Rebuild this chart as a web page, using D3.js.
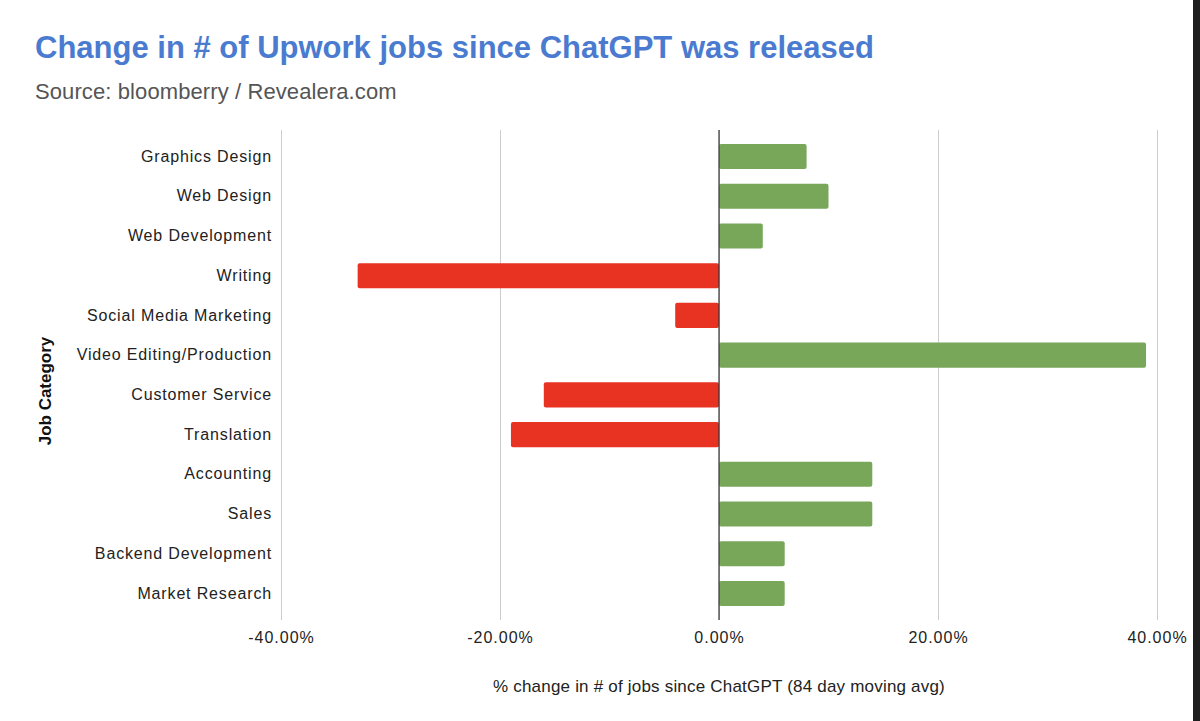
<!doctype html>
<html lang="en">
<head>
<meta charset="utf-8" />
<title>Upwork jobs since ChatGPT</title>
<script src="https://d3js.org/d3.v7.min.js"></script>
<style type="text/css">
  html, body { margin: 0; padding: 0; background: #fff; }
  #svg_div { width: 1200px; height: 721px; }
  text { font-family: "Liberation Sans", Arial, sans-serif; }
</style>
</head>
<body>
<div id="svg_div"></div>

<script>
// job categories, top to bottom
var categories = ["Graphics Design", "Web Design", "Web Development", "Writing",
  "Social Media Marketing", "Video Editing/Production", "Customer Service",
  "Translation", "Accounting", "Sales", "Backend Development", "Market Research"];

// % change in # of jobs (84 day moving avg)
var changes = [8, 10, 4, -33, -4, 39, -16, -19, 14, 14, 6, 6];

// x-axis ticks
var tickValues = [-40, -20, 0, 20, 40];

var width = 1200, height = 721;
var plotLeft = 281, plotRight = 1157, plotTop = 130, plotBottom = 620;

var svg = d3.select("#svg_div").append("svg")
  .attr("width", width)
  .attr("height", height);

svg.append("rect").attr("width", width).attr("height", height).attr("fill", "#fff");

// title and source line
svg.append("text")
  .attr("x", 35).attr("y", 58)
  .attr("font-size", "31px")
  .attr("font-weight", "bold")
  .attr("fill", "#4a7bd0")
  .text("Change in # of Upwork jobs since ChatGPT was released");

svg.append("text")
  .attr("x", 35).attr("y", 99)
  .attr("font-size", "22px")
  .attr("letter-spacing", "0.1px")
  .attr("fill", "#555")
  .text("Source: bloomberry / Revealera.com");

var xScale = d3.scaleLinear().domain([-40, 40]).range([plotLeft, plotRight]);

var yScale = d3.scaleBand()
  .domain(categories)
  .range([plotTop, plotBottom])
  .paddingInner(0.37)
  .paddingOuter(0.35);

// vertical gridlines with tick labels underneath
var xAxis = d3.axisBottom(xScale)
  .tickValues(tickValues)
  .tickSize(-(plotBottom - plotTop))
  .tickPadding(12)
  .tickFormat(function(d){ return (d < 0 ? "-" : "") + Math.abs(d).toFixed(2) + "%"; });

var gx = svg.append("g")
  .attr("transform", "translate(0," + plotBottom + ")")
  .call(xAxis);
gx.select(".domain").remove();
gx.selectAll("line").attr("stroke", "#ccc");
gx.selectAll("text")
  .attr("font-size", "16px")
  .attr("letter-spacing", "1px")
  .attr("fill", "#222");

// bars: green for growth, red for decline
svg.append("g").selectAll("rect")
  .data(changes)
  .enter()
  .append("rect")
    .attr("x", function(d){ return xScale(Math.min(0, d)); })
    .attr("y", function(d, i){ return yScale(categories[i]); })
    .attr("width", function(d){ return Math.abs(xScale(d) - xScale(0)); })
    .attr("height", yScale.bandwidth())
    .attr("rx", 2)
    .attr("fill", function(d){ return d < 0 ? "#e83323" : "#78a75a"; });

// zero baseline on top of bars
svg.append("line")
  .attr("x1", xScale(0)).attr("x2", xScale(0))
  .attr("y1", plotTop).attr("y2", plotBottom)
  .attr("stroke", "#333")
  .attr("stroke-width", 1.2);

// category labels
var yAxis = d3.axisLeft(yScale).tickSize(0).tickPadding(9);
var gy = svg.append("g")
  .attr("transform", "translate(" + plotLeft + ",0)")
  .call(yAxis);
gy.select(".domain").remove();
gy.selectAll("text")
  .attr("font-size", "16px")
  .attr("letter-spacing", "0.85px")
  .attr("fill", "#222");

// axis titles
svg.append("text")
  .attr("x", xScale(0)).attr("y", 692)
  .attr("text-anchor", "middle")
  .attr("font-size", "17px")
  .attr("letter-spacing", "0.2px")
  .attr("fill", "#222")
  .text("% change in # of jobs since ChatGPT (84 day moving avg)");

svg.append("text")
  .attr("transform", "translate(51,391) rotate(-90)")
  .attr("text-anchor", "middle")
  .attr("font-size", "17px")
  .attr("font-weight", "bold")
  .attr("fill", "#111")
  .text("Job Category");

// dark frame edge on the right
svg.append("rect")
  .attr("x", 1193).attr("y", 0)
  .attr("width", 7).attr("height", height)
  .attr("fill", "#1e1e1e");
</script>
</body>
</html>
